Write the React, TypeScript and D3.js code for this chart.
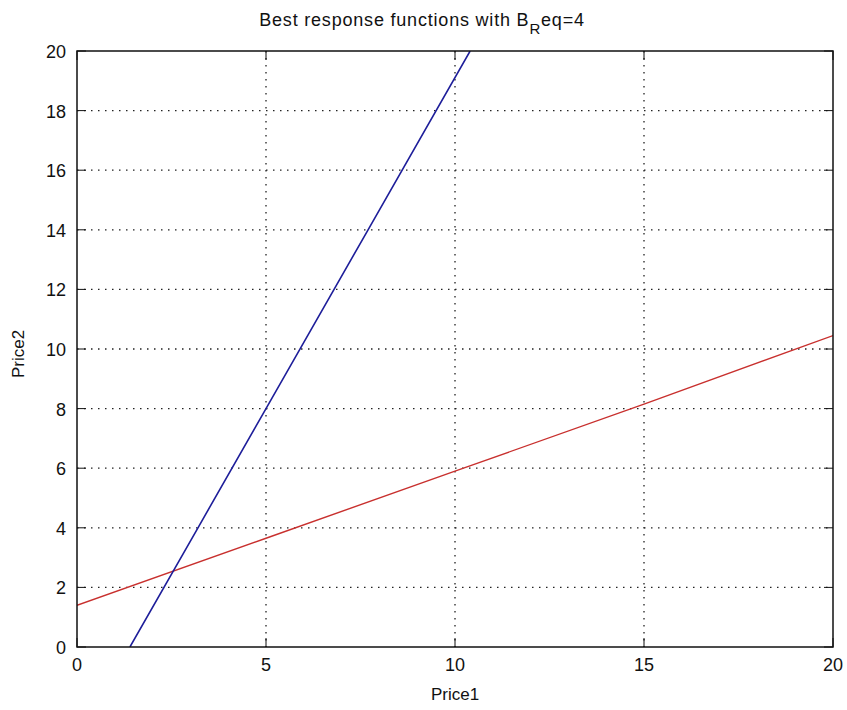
import React from "react";
import * as d3 from "d3";

const xTicks = [0, 5, 10, 15, 20];
const yTicks = [0, 2, 4, 6, 8, 10, 12, 14, 16, 18, 20];

// Best response of player 2 (red): Price2 as a function of Price1
const redPrice1 = [0, 5, 10, 15, 20];
const redPrice2 = [1.4, 3.65, 5.9, 8.15, 10.45];

// Best response of player 1 (blue): Price1 as a function of Price2
const bluePrice1 = [1.4, 3.2, 5.0, 7.7, 10.4];
const bluePrice2 = [0, 4, 8, 14, 20];

const W = 847;
const H = 710;
const M = { left: 77, right: 833, top: 51, bottom: 647 };
const FONT = "Liberation Sans, Arial, sans-serif";

export default function App() {
  const x = d3.scaleLinear().domain([0, 20]).range([M.left, M.right]);
  const y = d3.scaleLinear().domain([0, 20]).range([M.bottom, M.top]);
  const line = d3
    .line<[number, number]>()
    .x((d) => x(d[0]))
    .y((d) => y(d[1]));
  const red: [number, number][] = redPrice1.map((v, i) => [v, redPrice2[i]]);
  const blue: [number, number][] = bluePrice1.map((v, i) => [v, bluePrice2[i]]);
  const tickLen = 9;

  return (
    <svg
      width={W}
      height={H}
      style={{ position: "absolute", left: 0, top: 0, background: "#fff" }}
      fontFamily={FONT}
    >
      <rect x={0} y={0} width={W} height={H} fill="#fff" />
      <defs>
        <clipPath id="plotclip">
          <rect x={M.left} y={M.top} width={M.right - M.left} height={M.bottom - M.top} />
        </clipPath>
      </defs>
      {/* grid */}
      {xTicks.slice(1, -1).map((t) => (
        <line
          key={"gx" + t}
          x1={x(t)}
          x2={x(t)}
          y1={M.top}
          y2={M.bottom}
          stroke="#222"
          strokeWidth={1.3}
          strokeDasharray="1.5 5.5"
        />
      ))}
      {yTicks.slice(1, -1).map((t) => (
        <line
          key={"gy" + t}
          x1={M.left}
          x2={M.right}
          y1={y(t)}
          y2={y(t)}
          stroke="#222"
          strokeWidth={1.3}
          strokeDasharray="1.5 5.5"
        />
      ))}
      {/* data lines */}
      <g clipPath="url(#plotclip)">
        <path d={line(red) || ""} fill="none" stroke="#c8302e" strokeWidth={1.4} />
        <path d={line(blue) || ""} fill="none" stroke="#1e1e9a" strokeWidth={1.6} />
      </g>
      {/* ticks */}
      {xTicks.map((t) => (
        <g key={"tx" + t}>
          <line x1={x(t)} x2={x(t)} y1={M.bottom} y2={M.bottom - tickLen} stroke="#111" />
          <line x1={x(t)} x2={x(t)} y1={M.top} y2={M.top + tickLen} stroke="#111" />
          <text x={x(t)} y={671} fontSize={18} textAnchor="middle" fill="#111">
            {t}
          </text>
        </g>
      ))}
      {yTicks.map((t) => (
        <g key={"ty" + t}>
          <line x1={M.left} x2={M.left + tickLen} y1={y(t)} y2={y(t)} stroke="#111" />
          <line x1={M.right} x2={M.right - tickLen} y1={y(t)} y2={y(t)} stroke="#111" />
          <text x={66} y={y(t) + 7} fontSize={18} textAnchor="end" fill="#111">
            {t}
          </text>
        </g>
      ))}
      {/* box */}
      <rect
        x={M.left}
        y={M.top}
        width={M.right - M.left}
        height={M.bottom - M.top}
        fill="none"
        stroke="#111"
        strokeWidth={1.5}
      />
      {/* title */}
      <text x={422} y={25.5} fontSize={18} textAnchor="middle" fill="#111" letterSpacing={0.8}>
        Best response functions with B
        <tspan fontSize={15} dy={8}>R</tspan>
        <tspan dy={-8}>eq=4</tspan>
      </text>
      {/* axis labels */}
      <text x={455} y={700} fontSize={17} textAnchor="middle" fill="#111">
        Price1
      </text>
      <text
        transform={`translate(24,354) rotate(-90)`}
        fontSize={17}
        textAnchor="middle"
        fill="#111"
      >
        Price2
      </text>
    </svg>
  );
}
